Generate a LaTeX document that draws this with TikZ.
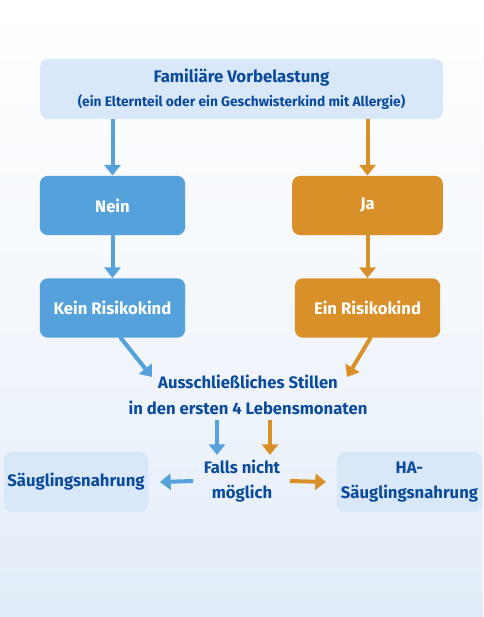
\documentclass[tikz,border=0pt]{standalone}
\usepackage{fontspec}
\setmainfont{Fira Sans}
\usetikzlibrary{arrows.meta}
\definecolor{bgblue}{HTML}{E2ECF8}
\definecolor{boxblue}{HTML}{D9E8F8}
\definecolor{nein}{HTML}{55A1DB}
\definecolor{ja}{HTML}{D99028}
\definecolor{txtblue}{HTML}{0B4B9B}
\begin{document}
\begin{tikzpicture}[x=0.75pt,y=-0.75pt,>={Triangle[width=12pt,length=8pt]},
    lbox/.style={fill=boxblue,rounded corners=6pt,text=txtblue,font=\bfseries\fontsize{12.5}{15}\selectfont,align=center,inner sep=0},
    cbox/.style={rounded corners=6pt,text=white,font=\bfseries\fontsize{12.5}{15}\selectfont,align=center,inner sep=0,minimum height=44.5pt},
    txt/.style={text=txtblue,font=\bfseries\fontsize{12.5}{19}\selectfont,align=center,inner sep=0},
    arr/.style={->,line width=3pt}]
    % background
    \shade[top color=white,bottom color=bgblue,middle color=white!60!bgblue](0,0)rectangle(483,617);
    \useasboundingbox(0,0)rectangle(483,617);
    % boxes
    \node[lbox,minimum width=302pt,minimum height=45pt,font=\bfseries\fontsize{10.3}{13}\selectfont](Top)at(241.5,89){{\fontsize{12.6}{15}\selectfont Familiäre Vorbelastung}\\[5pt](ein Elternteil oder ein Geschwisterkind mit Allergie)};
    \node[cbox,fill=nein,minimum width=109pt](Nein)at(112.5,205.5){Nein};
    \node[cbox,fill=ja,minimum width=113pt](Ja)at(367.5,205.5){Ja};
    \node[cbox,fill=nein,minimum width=109pt](Kein)at(112.5,308){Kein Risikokind};
    \node[cbox,fill=ja,minimum width=109pt](Ein)at(367.5,308){Ein Risikokind};
    \node[txt](Still)at(248,395){Ausschließliches Stillen\\in den ersten 4 Lebensmonaten};
    \node[txt](Falls)at(242,481){Falls nicht\\möglich};
    \node[lbox,minimum width=108pt,minimum height=45pt](SN)at(76,482){Säuglingsnahrung};
    \node[lbox,minimum width=109pt,minimum height=45pt,font=\bfseries\fontsize{12.5}{19}\selectfont](HA)at(409.5,482){HA-\\Säuglingsnahrung};
    % arrows
    \draw[arr,nein](Top.south-|Nein)--(Nein);
    \draw[arr,ja](Top.south-|Ja)--(Ja);
    \draw[arr,nein](Nein)--(Kein);
    \draw[arr,ja](Ja)--(Ein);
    \coordinate(KS)at(120,337);
    \coordinate(ES)at(371,337);
    \draw[arr,nein](KS)--(152,377);
    \draw[arr,ja](ES)--(347,377);
    \draw[arr,nein](217,420)--(217,455);
    \draw[arr,ja](270,420)--(270,455);
    \draw[arr,nein](193,481)--(SN.east-|160,0);
    \draw[arr,ja](290,481)--(HA.west-|326,0);
\end{tikzpicture}
\end{document}
